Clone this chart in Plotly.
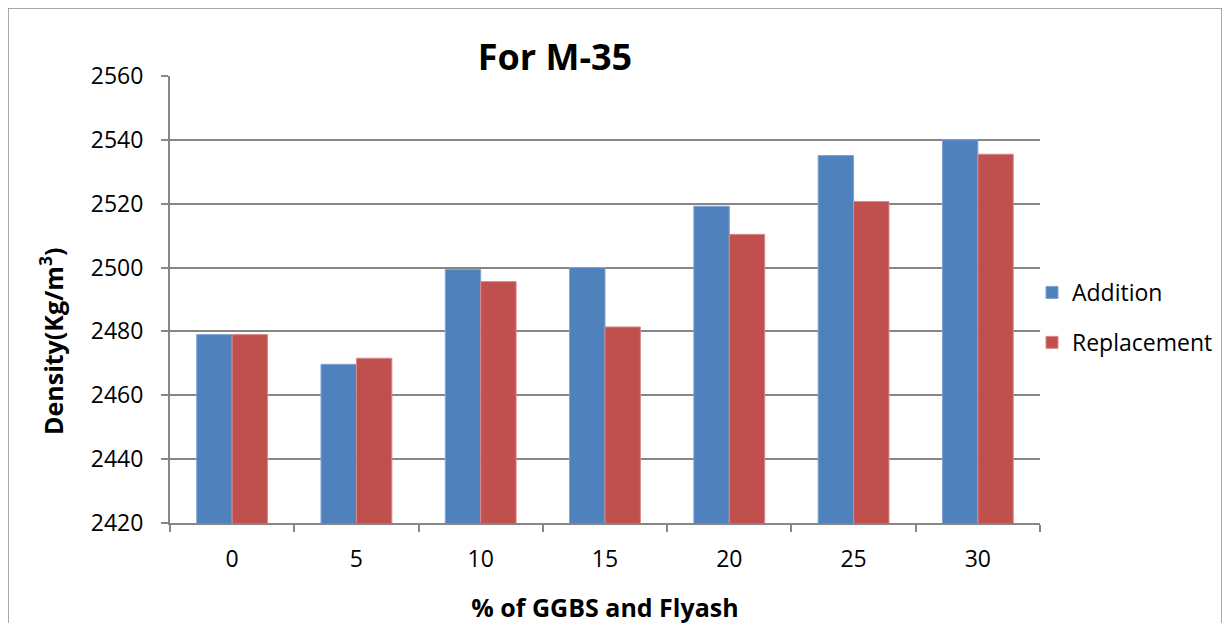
import plotly.graph_objects as go

categories = ["0", "5", "10", "15", "20", "25", "30"]
addition = [2479, 2469.7, 2499.4, 2500, 2519.2, 2535.1, 2540]
replacement = [2479, 2471.6, 2495.6, 2481.4, 2510.4, 2520.7, 2535.5]
y_ticks = [2420, 2440, 2460, 2480, 2500, 2520, 2540, 2560]

FONT = "Open Sans, Liberation Sans, sans-serif"
W, H = 1230, 623
L, R, T, B = 162, 198, 68, 108
pw, ph = W - L - R, H - T - B

fig = go.Figure()
fig.add_trace(go.Bar(x=categories, y=addition, name="Addition", legendgroup="a",
                     marker=dict(color="#4F81BD", line=dict(color="#7FA3D3", width=1))))
fig.add_trace(go.Bar(x=categories, y=replacement, name="Replacement", legendgroup="r",
                     marker=dict(color="#C0504D", line=dict(color="#D98A88", width=1))))

fig.update_layout(
    width=W, height=H,
    margin=dict(l=L, r=R, t=T, b=B, autoexpand=False),
    paper_bgcolor="white", plot_bgcolor="white",
    barmode="group", bargap=0.43, bargroupgap=0,
    font=dict(family=FONT, size=23, color="black"),
    title=dict(text="<b>For M-35</b>", x=547 / W, xanchor="center",
               y=1 - 49 / H, yanchor="middle", font=dict(size=36, color="black")),
    legend=dict(x=(1024 - L) / pw, y=(H - B - 263) / ph, xanchor="left", yanchor="top",
                font=dict(size=23), itemwidth=30, traceorder="grouped", tracegroupgap=17,
                bgcolor="rgba(0,0,0,0)"),
    xaxis=dict(type="category", tickson="boundaries", ticks="outside", ticklen=7,
               tickwidth=2, tickcolor="#868686", showline=True, linecolor="#868686",
               linewidth=2, showgrid=False, ticklabelstandoff=14,
               title=dict(text="<b>% of GGBS and Flyash</b>", font=dict(size=25), standoff=27),
               tickfont=dict(size=23)),
    yaxis=dict(range=[2420, 2560], tickvals=y_ticks, ticks="outside", ticklen=7,
               tickwidth=2, tickcolor="#868686", showline=True, linecolor="#868686",
               linewidth=2, showgrid=True, gridcolor="#868686", gridwidth=2,
               zeroline=False, ticklabelstandoff=13,
               tickfont=dict(size=23)),
)

fig.add_annotation(text="<b>Density(Kg/m<sup>3</sup>)</b>", textangle=-90,
                   xref="paper", yref="paper",
                   x=(43 - L) / pw, y=(H - B - 334) / ph,
                   xanchor="center", yanchor="middle", showarrow=False,
                   font=dict(size=25, color="black"))

fig.add_shape(type="rect", xref="paper", yref="paper",
              x0=(0 - L) / pw, x1=(1214 - L) / pw,
              y0=(H - B - 660) / ph, y1=(H - B - 0) / ph,
              line=dict(color="#8C8C8C", width=1.5), fillcolor="rgba(0,0,0,0)",
              layer="below")

fig.write_html("out.html")
